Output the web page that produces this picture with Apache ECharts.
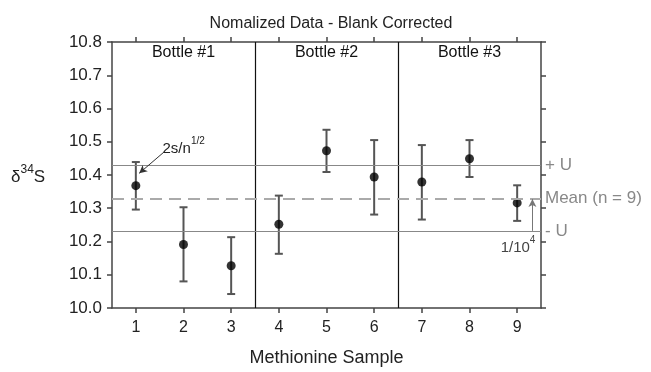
<!DOCTYPE html>
<html>
<head>
<meta charset="utf-8">
<script src="https://cdn.jsdelivr.net/npm/echarts@6/dist/echarts.min.js"></script>
<style>
  html, body { margin: 0; padding: 0; background: #fff; }
  #chart { width: 651px; height: 372px; }
</style>
</head>
<body>
<div id="chart"></div>
<script>
// sample numbers and values
var samples = [1, 2, 3, 4, 5, 6, 7, 8, 9];
var means = [10.368, 10.191, 10.127, 10.252, 10.473, 10.394, 10.379, 10.449, 10.316];
var errLow = [10.296, 10.080, 10.042, 10.163, 10.409, 10.281, 10.266, 10.394, 10.262];
var errHigh = [10.439, 10.303, 10.213, 10.338, 10.536, 10.505, 10.490, 10.505, 10.369];
var bottleNames = ['Bottle #1', 'Bottle #2', 'Bottle #3'];
var bottleCenters = [2, 5, 8];
var bottleBreaks = [3.5, 6.5];
var grandMean = 10.328;
var plusU = 10.425;
var minusU = 10.232;

var font = '"Liberation Sans", Arial, sans-serif';
var chart = echarts.init(document.getElementById('chart'));

var axisLine = { lineStyle: { color: '#444', width: 1.5 } };
var tickStyle = { show: true, inside: false, length: 5, lineStyle: { color: '#444', width: 1.5 }, customValues: samples };

var option = {
  backgroundColor: '#fff',
  animation: false,
  title: {
    text: 'Nomalized Data - Blank Corrected',
    left: 326, top: 11, textAlign: 'center',
    textStyle: { fontFamily: font, fontSize: 16, fontWeight: 'normal', color: '#222' }
  },
  grid: { left: 112, right: 110, top: 42, bottom: 58 },
  xAxis: [
    {
      type: 'value', min: 0.5, max: 9.5,
      name: 'Methionine Sample', nameLocation: 'middle', nameGap: 41,
      nameTextStyle: { fontFamily: font, fontSize: 18, color: '#222' },
      axisLine: axisLine,
      axisTick: tickStyle,
      axisLabel: { customValues: samples, margin: 12, fontFamily: font, fontSize: 16, color: '#222' },
      splitLine: { show: false }
    },
    {
      type: 'value', min: 0.5, max: 9.5, position: 'top',
      axisLine: axisLine,
      axisTick: tickStyle,
      axisLabel: { show: false },
      splitLine: { show: false }
    }
  ],
  yAxis: [
    {
      type: 'value', min: 10, max: 10.8, interval: 0.1,
      axisLine: axisLine,
      axisTick: { show: true, length: 5, lineStyle: { color: '#444', width: 1.5 } },
      axisLabel: { margin: 10, fontFamily: font, fontSize: 17, color: '#222',
        formatter: function (v) { return v.toFixed(1); } },
      splitLine: { show: false }
    },
    {
      type: 'value', min: 10, max: 10.8, interval: 0.1, position: 'right',
      axisLine: axisLine,
      axisTick: { show: true, length: 5, lineStyle: { color: '#444', width: 1.5 } },
      axisLabel: { show: false },
      splitLine: { show: false }
    }
  ],
  series: [
    {
      type: 'custom',
      name: 'err',
      data: samples.map(function (s, i) { return [s, errLow[i], errHigh[i]]; }),
      renderItem: function (params, api) {
        var x = api.value(0);
        var lo = api.coord([x, api.value(1)]);
        var hi = api.coord([x, api.value(2)]);
        var w = 4;
        var st = { stroke: '#555', lineWidth: 2 };
        return {
          type: 'group',
          children: [
            { type: 'line', shape: { x1: lo[0], y1: lo[1], x2: hi[0], y2: hi[1] }, style: st },
            { type: 'line', shape: { x1: lo[0] - w, y1: lo[1], x2: lo[0] + w, y2: lo[1] }, style: st },
            { type: 'line', shape: { x1: hi[0] - w, y1: hi[1], x2: hi[0] + w, y2: hi[1] }, style: st }
          ]
        };
      },
      z: 3,
      markLine: {
        silent: true, symbol: 'none',
        label: { show: false },
        lineStyle: { color: '#111', width: 1.2, type: 'solid' },
        data: bottleBreaks.map(function (b) { return { xAxis: b }; })
      }
    },
    {
      type: 'scatter',
      name: 'mean',
      data: samples.map(function (s, i) { return [s, means[i]]; }),
      symbol: 'circle', symbolSize: 9,
      itemStyle: { color: '#000' },
      z: 4,
      markLine: {
        silent: true, symbol: 'none',
        label: { show: true, position: 'end', distance: 4, fontFamily: font, fontSize: 17, color: '#888' },
        data: [
          { yAxis: plusU, label: { formatter: '+ U' }, lineStyle: { color: '#888', width: 1, type: 'solid' } },
          { yAxis: grandMean, label: { formatter: 'Mean (n = 9)' }, lineStyle: { color: '#aaa', width: 2, type: [12, 7] } },
          { yAxis: minusU, label: { formatter: '- U' }, lineStyle: { color: '#888', width: 1, type: 'solid' } }
        ]
      }
    },
    {
      type: 'scatter',
      name: 'arrows',
      data: [],
      markLine: {
        silent: true,
        symbol: ['none', 'arrow'],
        symbolSize: [6, 8],
        label: { show: false },
        data: [
          [{ coord: [1.59, 10.469], lineStyle: { color: '#333', width: 1, type: 'solid' } }, { coord: [1.07, 10.405] }],
          [{ coord: [9.32, minusU], lineStyle: { color: '#777', width: 1, type: 'solid' } }, { coord: [9.32, grandMean] }]
        ]
      }
    }
  ]
};
chart.setOption(option);

// annotation texts placed with the chart's own coordinates
function px(x, y) { return chart.convertToPixel({ xAxisIndex: 0, yAxisIndex: 0 }, [x, y]); }
var graphics = [];
bottleNames.forEach(function (n, i) {
  var p = px(bottleCenters[i], 10.8);
  graphics.push({ type: 'text', x: p[0], y: p[1] + 11,
    style: { text: n, fontFamily: font, fontSize: 16, fill: '#111', align: 'center', verticalAlign: 'middle' } });
});
var pa = px(1.56, 10.487);
graphics.push({ type: 'text', x: pa[0], y: pa[1],
  style: { text: '{b|2s/n}{s|1/2}', align: 'left', verticalAlign: 'middle',
    rich: { b: { fontFamily: font, fontSize: 15, fill: '#222', lineHeight: 20, verticalAlign: 'bottom' },
            s: { fontFamily: font, fontSize: 10, fill: '#222', lineHeight: 20, verticalAlign: 'top' } } } });
var pb = px(9.32, minusU);
graphics.push({ type: 'text', x: pb[0] + 3, y: pb[1] + 14,
  style: { text: '{b|1/10}{s|4}', align: 'right', verticalAlign: 'middle',
    rich: { b: { fontFamily: font, fontSize: 15, fill: '#444', lineHeight: 20, verticalAlign: 'bottom' },
            s: { fontFamily: font, fontSize: 10, fill: '#444', lineHeight: 20, verticalAlign: 'top' } } } });
var py = px(0.5, 10.4);
graphics.push({ type: 'text', x: 11, y: py[1],
  style: { text: '{b|δ}{s|34}{b|S}', align: 'left', verticalAlign: 'middle',
    rich: { b: { fontFamily: font, fontSize: 17, fill: '#222', lineHeight: 22, verticalAlign: 'bottom' },
            s: { fontFamily: font, fontSize: 12, fill: '#222', lineHeight: 22, verticalAlign: 'top' } } } });
chart.setOption({ graphic: graphics });
</script>
</body>
</html>
